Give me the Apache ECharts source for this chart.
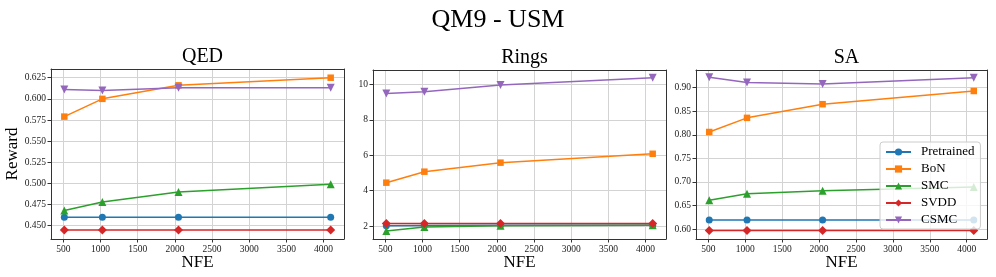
<!DOCTYPE html>
<html>
<head>
<meta charset="utf-8">
<script src="https://cdn.jsdelivr.net/npm/echarts@6/dist/echarts.min.js"></script>
<style>
html,body{margin:0;padding:0;background:#fff;}
#chart{width:996px;height:277px;}
</style>
</head>
<body>
<div id="chart"></div>
<script>
// ---- data ----
const nfe = [512, 1024, 2048, 4096];
const methods = ['Pretrained', 'BoN', 'SMC', 'SVDD', 'CSMC'];

const qedPretrained = [0.460, 0.460, 0.460, 0.460];
const qedBoN        = [0.579, 0.600, 0.616, 0.625];
const qedSMC        = [0.468, 0.478, 0.490, 0.499];
const qedSVDD       = [0.445, 0.445, 0.445, 0.445];
const qedCSMC       = [0.611, 0.610, 0.613, 0.613];

const ringsPretrained = [2.02, 2.03, 2.04, 2.04];
const ringsBoN        = [4.45, 5.07, 5.58, 6.08];
const ringsSMC        = [1.72, 1.95, 2.02, 2.05];
const ringsSVDD       = [2.15, 2.15, 2.15, 2.15];
const ringsCSMC       = [9.49, 9.58, 9.96, 10.37];

const saPretrained = [0.619, 0.619, 0.619, 0.619];
const saBoN        = [0.806, 0.836, 0.865, 0.893];
const saSMC        = [0.661, 0.675, 0.681, 0.689];
const saSVDD       = [0.597, 0.597, 0.597, 0.597];
const saCSMC       = [0.922, 0.911, 0.908, 0.921];

const xTicks     = [500, 1000, 1500, 2000, 2500, 3000, 3500, 4000];
const qedTicks   = [0.450, 0.475, 0.500, 0.525, 0.550, 0.575, 0.600, 0.625];
const ringsTicks = [2, 4, 6, 8, 10];
const saTicks    = [0.60, 0.65, 0.70, 0.75, 0.80, 0.85, 0.90];

const panelTitles = ['QED', 'Rings', 'SA'];
// ---- styling ----
const FONT = '"Liberation Serif", "DejaVu Serif", serif';
const colors = ['#1f77b4', '#ff7f0e', '#2ca02c', '#d62728', '#9467bd'];
const symbols = ['circle', 'rect', 'triangle', 'diamond', 'path://M0,0L10,0L5,9Z'];
const symbolSizes = [7, 6.5, 8, 9, 8];

const panels = [
  {data: [qedPretrained, qedBoN, qedSMC, qedSVDD, qedCSMC], ticks: qedTicks, min: 0.4343, max: 0.6353, fmt: v => v.toFixed(3)},
  {data: [ringsPretrained, ringsBoN, ringsSMC, ringsSVDD, ringsCSMC], ticks: ringsTicks, min: 1.27, max: 10.81, fmt: v => String(v)},
  {data: [saPretrained, saBoN, saSMC, saSVDD, saCSMC], ticks: saTicks, min: 0.5788, max: 0.9376, fmt: v => v.toFixed(2)}
];
const grids = [
  {left: 51, top: 69, width: 293, height: 170},
  {left: 373, top: 70, width: 293, height: 169},
  {left: 696, top: 70, width: 291, height: 169}
];

const gridLine = {show: true, lineStyle: {color: '#d3d3d3', width: 1}};
const xAxes = [], yAxes = [], series = [], titles = [];

titles.push({text: 'QM9 - USM', left: 'center', top: 2,
  textStyle: {fontFamily: FONT, fontSize: 26, fontWeight: 'normal', color: '#000'}});

panels.forEach((p, i) => {
  const g = grids[i];
  titles.push({text: panelTitles[i], left: g.left + g.width / 2, top: g.top - 27, textAlign: 'center',
    textStyle: {fontFamily: FONT, fontSize: 20, fontWeight: 'normal', color: '#000'}});
  xAxes.push({
    type: 'value', gridIndex: i, min: 332.8, max: 4275.2,
    name: 'NFE', nameLocation: 'middle', nameGap: 15, nameMoveOverlap: false,
    nameTextStyle: {fontFamily: FONT, fontSize: 17, color: '#000', verticalAlign: 'top'},
    axisLine: {show: true, onZero: false, lineStyle: {color: '#333', width: 1}},
    axisTick: {show: true, inside: false, length: 3.5, customValues: xTicks, lineStyle: {color: '#333'}},
    axisLabel: {customValues: xTicks, margin: 5, fontFamily: FONT, fontSize: 9.5, color: '#222',
      formatter: v => String(v)},
    splitLine: gridLine
  });
  yAxes.push({
    type: 'value', gridIndex: i, min: p.min, max: p.max,
    name: i === 0 ? 'Reward' : '', nameLocation: 'middle', nameGap: 30,
    nameTextStyle: {fontFamily: FONT, fontSize: 17, color: '#000'},
    axisLine: {show: true, onZero: false, lineStyle: {color: '#333', width: 1}},
    axisTick: {show: true, inside: false, length: 3.5, customValues: p.ticks, lineStyle: {color: '#333'}},
    axisLabel: {customValues: p.ticks, margin: 5, fontFamily: FONT, fontSize: 9.5, color: '#222',
      formatter: p.fmt},
    splitLine: gridLine
  });
  // top / right spines via secondary axes
  xAxes.push({type: 'value', gridIndex: i, position: 'top', min: 332.8, max: 4275.2,
    axisLine: {show: true, lineStyle: {color: '#333', width: 1}},
    axisTick: {show: false}, axisLabel: {show: false}, splitLine: {show: false}});
  yAxes.push({type: 'value', gridIndex: i, position: 'right', min: p.min, max: p.max,
    axisLine: {show: true, lineStyle: {color: '#333', width: 1}},
    axisTick: {show: false}, axisLabel: {show: false}, splitLine: {show: false}});
  methods.forEach((m, k) => {
    series.push({
      name: m, type: 'line', xAxisIndex: i * 2, yAxisIndex: i * 2,
      data: nfe.map((x, j) => [x, p.data[k][j]]),
      symbol: symbols[k], symbolSize: symbolSizes[k], showAllSymbol: true,
      lineStyle: {color: colors[k], width: 1.5},
      itemStyle: {color: colors[k]},
      emphasis: {disabled: true},
      animation: false, z: 2 + k
    });
  });
});

const chart = echarts.init(document.getElementById('chart'), null, {renderer: 'canvas'});
chart.setOption({
  animation: false,
  backgroundColor: '#fff',
  title: titles,
  grid: grids.map(g => Object.assign({containLabel: false, outerBoundsMode: 'none'}, g)),
  xAxis: xAxes,
  yAxis: yAxes,
  legend: {
    data: methods, orient: 'vertical', left: 880, top: 142,
    itemWidth: 25, itemHeight: 9, itemGap: 3,
    padding: [3, 6, 2, 5],
    backgroundColor: 'rgba(255,255,255,0.8)', borderColor: '#cccccc', borderWidth: 1, borderRadius: 3,
    textStyle: {fontFamily: FONT, fontSize: 13, color: '#000', lineHeight: 14, padding: [0, 0, 0, 5]},
    z: 20
  },
  series: series
});
</script>
</body>
</html>
